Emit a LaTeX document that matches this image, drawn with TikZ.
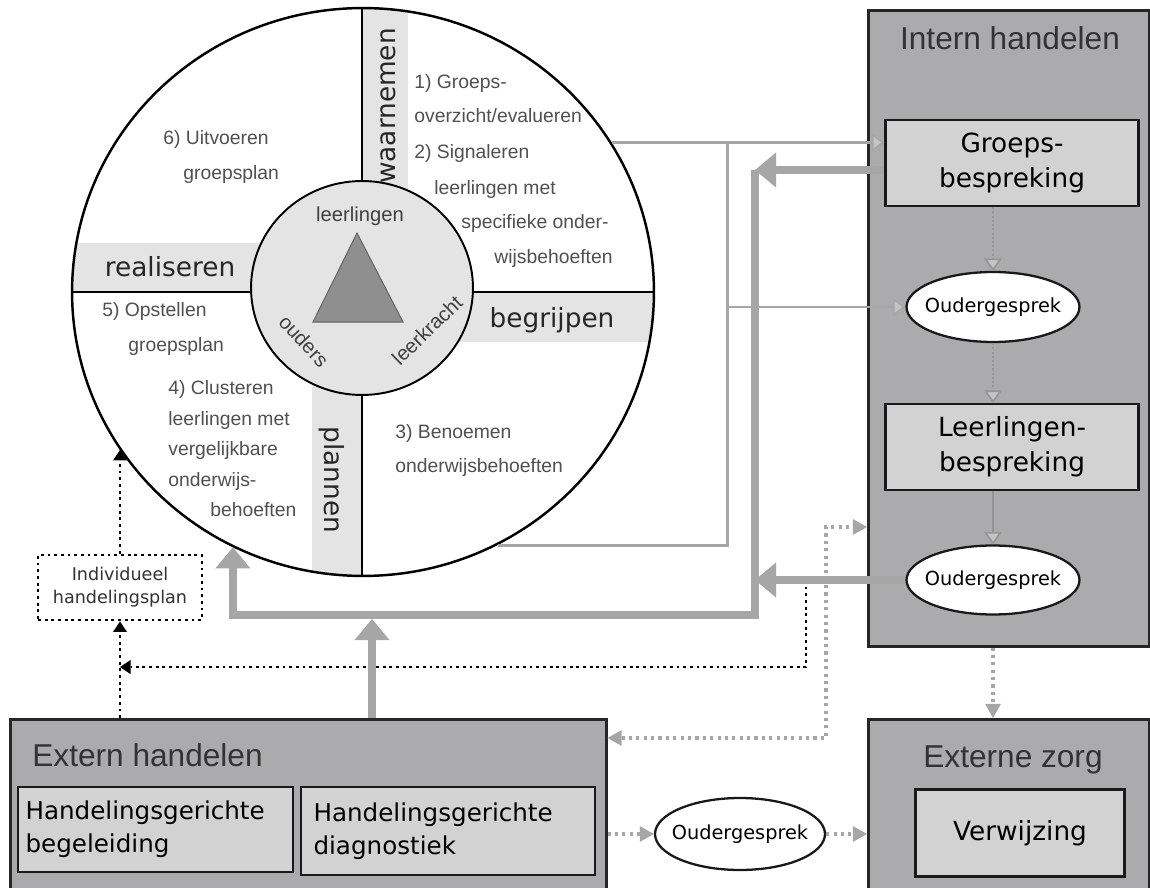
\documentclass[tikz,border=0pt]{standalone}
\usepackage{fontspec}
\setmainfont{Liberation Sans}
\newfontfamily\comic{DejaVu Sans}
\usetikzlibrary{arrows.meta,shapes.geometric}
\definecolor{band}{HTML}{E4E4E4}
\definecolor{panelgray}{HTML}{ABABAD}
\definecolor{boxgray}{HTML}{D2D2D2}
\definecolor{linegray}{HTML}{A6A6A6}
\definecolor{tipgray}{HTML}{C4C4C4}
\definecolor{steptext}{HTML}{505050}
\definecolor{trigray}{HTML}{8F8F8F}
\tikzset{
    stepline/.style={anchor=base west, inner sep=0pt, text=steptext, font=\fontsize{11}{13}\selectfont},
    actor/.style={inner sep=0pt, text=black!75, font=\fontsize{11.5}{13}\selectfont},
    phase/.style={inner sep=0pt, text=black!85, font=\comic\fontsize{15}{18}\selectfont},
    panel/.style={draw=black!85, line width=1.5pt, fill=panelgray, anchor=north west, inner sep=0pt},
    paneltitle/.style={inner sep=0pt, text=black!80, font=\fontsize{18}{22}\selectfont},
    innerbox/.style={draw=black!90, line width=1.4pt, fill=boxgray, inner sep=0pt, align=center, font=\comic\fontsize{15}{20}\selectfont},
    talk/.style={ellipse, draw=black!90, line width=1.3pt, fill=white, inner sep=0pt, font=\comic\fontsize{11}{13}\selectfont, minimum width=3.46cm, minimum height=1.4cm},
    thinflow/.style={draw=linegray, line width=1.7pt},
    innerflow/.style={draw=linegray!90!black, line width=1.2pt},
    thinhead/.style={-{Triangle[width=10pt,length=7pt,fill=tipgray,line width=0.9pt]}},
    bigflow/.style={draw=linegray, line width=4.3pt, -{Triangle[width=20pt,length=12pt,line width=0pt]}},
    blackdots/.style={draw=black, line width=1.6pt, dash pattern=on 1.6pt off 2.2pt, -{Triangle[width=8pt,length=6pt,line width=0pt]}},
    graydots/.style={draw=linegray, line width=1.8pt, dash pattern=on 1.8pt off 2.4pt},
    grayhead/.style={-{Triangle[width=9pt,length=8pt,line width=0pt]}}
}
\newcommand{\talktext}{\makebox[1.8cm]{Oudergesprek}}
\begin{document}
\begin{tikzpicture}[x=0.02cm, y=-0.02cm]
    \useasboundingbox[fill=white] (0,0) rectangle (1150,888);
    % wheel with its four phases
    \begin{scope}
        \clip (363,292) ellipse [x radius=5.82cm, y radius=5.68cm];
        \fill[band] (362,0) rectangle (408,200);
        \fill[band] (60,243) rectangle (270,292);
        \fill[band] (455,292) rectangle (670,342);
        \fill[band] (312,380) rectangle (362,590);
        \draw[line width=1.1pt] (362,0) -- (362,600);
        \draw[line width=1.1pt] (60,292) -- (670,292);
    \end{scope}
    \node[ellipse, draw, fill=band, line width=1.1pt, minimum width=4.44cm, minimum height=4.28cm] (core) at (362,288) {};
    \node[ellipse, draw, line width=1.4pt, minimum width=11.64cm, minimum height=11.36cm] (wheel) at (363,292) {};
    \draw[fill=trigray, draw=black!60, line width=0.6pt] (357,233) -- (403,322) -- (313,322) -- cycle;
    \node[actor] (kids) at (360,216) {leerlingen};
    \node[actor, rotate=-47] (parents) at (304,341) {ouders};
    \node[actor, rotate=44] (teacher) at (427,330) {leerkracht};

    \node[phase, rotate=90] (observe) at (388,106) {waarnemen};
    \node[phase] (realise) at (170,267) {realiseren};
    \node[phase] (grasp) at (552,320) {begrijpen};
    \node[phase, rotate=-90] (plan) at (332,480) {plannen};

    \node[stepline] (s1a) at (414,89) {1) Groeps-};
    \node[stepline] (s1b) at (414,123) {overzicht/evalueren};
    \node[stepline] (s2a) at (414,159) {2) Signaleren};
    \node[stepline] (s2b) at (434,195) {leerlingen met};
    \node[stepline] (s2c) at (461,229) {specifieke onder-};
    \node[stepline] (s2d) at (494,264) {wijsbehoeften};
    \node[stepline] (s3a) at (395,439) {3) Benoemen};
    \node[stepline] (s3b) at (395,473) {onderwijsbehoeften};
    \node[stepline] (s4a) at (168,395) {4) Clusteren};
    \node[stepline] (s4b) at (168,426) {leerlingen met};
    \node[stepline] (s4c) at (168,456) {vergelijkbare};
    \node[stepline] (s4d) at (168,487) {onderwijs-};
    \node[stepline] (s4e) at (210,517) {behoeften};
    \node[stepline] (s5a) at (102,317) {5) Opstellen};
    \node[stepline] (s5b) at (128,352) {groepsplan};
    \node[stepline] (s6a) at (163,145) {6) Uitvoeren};
    \node[stepline] (s6b) at (183,180) {groepsplan};

    % panels
    \node[panel, minimum width=5.62cm, minimum height=12.72cm] (intern) at (867,9) {};
    \node[paneltitle] (interntitle) at (1010,38) {Intern handelen};
    \node[innerbox, minimum width=5.06cm, minimum height=1.72cm] (groeps) at (1012,163) {Groeps-\\bespreking};
    \node[talk] (oud1) at (993,307) {\talktext};
    \node[innerbox, minimum width=5.06cm, minimum height=1.72cm] (leer) at (1012,447) {Leerlingen-\\bespreking};
    \node[talk, minimum height=1.38cm] (oud2) at (993,580) {\talktext};

    \node[panel, minimum width=5.62cm, minimum height=3.64cm] (externz) at (867,718) {};
    \node[paneltitle] (externztitle) at (1013,760) {Externe zorg};
    \node[innerbox, minimum width=4.18cm, minimum height=1.74cm] (verw) at (1020,833) {Verwijzing};

    \node[panel, minimum width=11.92cm, minimum height=3.64cm] (extern) at (9,718) {};
    \node[paneltitle, anchor=west] (externtitle) at (32,755) {Extern handelen};
    \node[innerbox, align=left, text width=5.2cm, inner xsep=0.15cm, minimum height=1.7cm, font=\comic\fontsize{14}{19}\selectfont] (hgb) at (155.5,829.5) {Handelingsgerichte\\begeleiding};
    \node[innerbox, align=left, text width=5.38cm, inner xsep=0.25cm, minimum height=1.76cm, font=\comic\fontsize{14}{19}\selectfont] (hgd) at (448,831) {Handelingsgerichte\\diagnostiek};
    \node[talk, minimum width=3.4cm, minimum height=1.44cm] (oud3) at (740,834) {\talktext};

    \node[draw, line width=1.6pt, dash pattern=on 1.6pt off 2.2pt, minimum width=3.28cm, minimum height=1.3cm, align=center, inner sep=0pt, text=black!80, font=\comic\fontsize{10}{13}\selectfont] (indiv) at (120,587.5) {Individueel\\handelingsplan};

    % dotted connectors
    \coordinate (drop) at (806,667);
    \draw[blackdots] (indiv.south |- extern.north) -- (indiv.south);
    \draw[blackdots] (indiv.north) -- (indiv.north |- wheel.-147.3);
    \draw[blackdots] (drop |- oud2.west) -- (drop) -- (drop -| indiv.south);

    \coordinate (lowbend) at (826,738);
    \coordinate (highbend) at (826,527);
    \draw[graydots, {Triangle[width=9pt,length=8pt,line width=0pt]}-{Triangle[width=9pt,length=8pt,line width=0pt]}] (lowbend -| extern.east) -- (lowbend) -- (highbend) -- (highbend -| intern.west);
    \draw[graydots, grayhead] (oud2 |- intern.south) -- (oud2 |- externz.north);
    \draw[graydots, grayhead] (extern.east |- oud3) -- (oud3.west);
    \draw[graydots, grayhead] (oud3.east) -- (oud3 -| externz.west);

    \draw[innerflow, thinhead, dash pattern=on 1.2pt off 1.2pt] (oud1 |- groeps.south) -- (oud1.north);
    \draw[innerflow, thinhead, dash pattern=on 1.2pt off 1.2pt] (oud1.south) -- (oud1 |- leer.north);
    \draw[innerflow, thinhead] (oud2 |- leer.south) -- (oud2.north);

    % thin grey lines from the wheel
    \coordinate (split) at (727,300);
    \draw[thinflow, thinhead] (wheel.31.7) -- (wheel.31.7 -| groeps.west);
    \draw[thinflow] (split |- wheel.31.7) -- (split |- wheel.-62.4) -- (wheel.-62.4);
    \draw[thinflow, thinhead] (split |- oud1.west) -- (oud1.west);

    % thick grey feedback
    \coordinate (back) at (755,170);
    \coordinate (loop) at (755,615);
    \coordinate (feed) at (372,619);
    \draw[bigflow] (back) -- (loop) -- (loop -| wheel.-117.8) -- (wheel.-117.8);
    \draw[bigflow] (groeps.west |- back) -- (back);
    \draw[bigflow] (oud2.west) -- (oud2.west -| back);
    \draw[bigflow] (feed |- extern.north) -- (feed);
\end{tikzpicture}
\end{document}
